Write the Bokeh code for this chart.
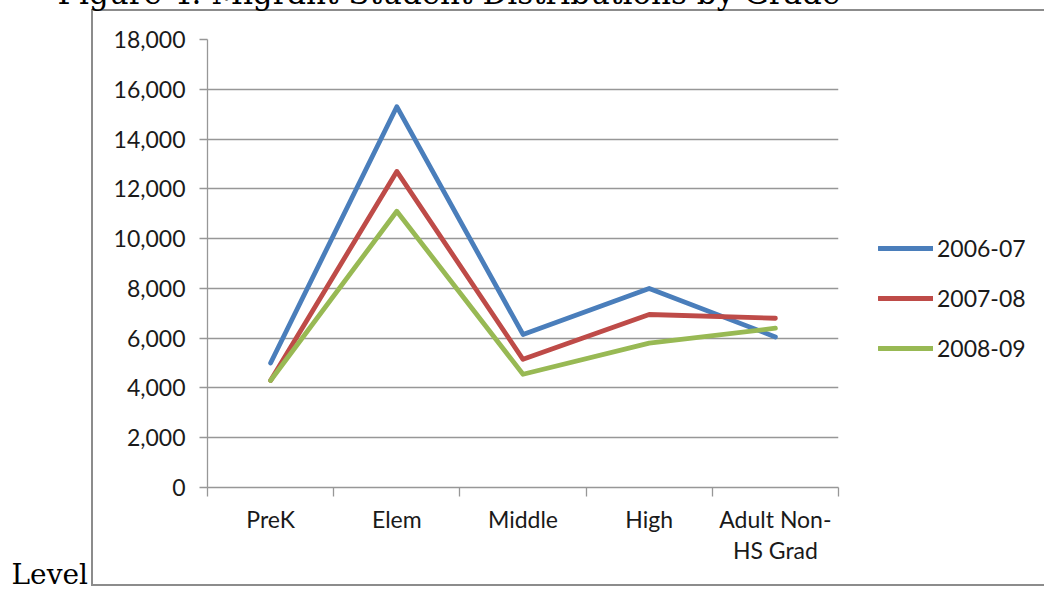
from bokeh.plotting import figure
from bokeh.models import (FixedTicker, NumeralTickFormatter, Label,
                          Legend, LegendItem, Range1d)
from bokeh.embed import file_html
from bokeh.resources import INLINE

# Migrant students by grade level, three school years
categories = ["PreK", "Elem", "Middle", "High", "Adult Non-\nHS Grad"]
years = ["2006-07", "2007-08", "2008-09"]
counts_2006 = [5000, 15300, 6150, 8000, 6050]
counts_2007 = [4300, 12700, 5150, 6950, 6800]
counts_2008 = [4300, 11100, 4550, 5800, 6400]
y_ticks = [0, 2000, 4000, 6000, 8000, 10000, 12000, 14000, 16000, 18000]

colors = ["#4A7EBB", "#BE4B48", "#98B954"]
series = [counts_2006, counts_2007, counts_2008]

# category i sits in the middle of slot [i, i+1]
xs = [i + 0.5 for i in range(len(categories))]
bounds = list(range(len(categories) + 1))

GRAY = "#979797"
BOX = "#8c8c8c"
FONT = "Lato"
SERIF = "DejaVu Serif"

W, H = 1044, 589
FL, FT, FW, FH = 207, 39, 631, 448


def bar(x, y, w, h):
    # one straight edge of the chart box, painted as a CSS background layer
    return f"linear-gradient({BOX},{BOX}) {x}px {y}px / {w}px {h}px no-repeat"


box_css = ", ".join([bar(91, 9, 2, 577), bar(91, 9, 980, 2),
                     bar(91, 584, 980, 2), "white"])

p = figure(width=W, height=H, output_backend="svg", toolbar_location=None,
           x_range=Range1d(0, len(categories)), y_range=Range1d(0, 18000),
           min_border_left=FL, min_border_right=W - FL - FW,
           min_border_top=FT, min_border_bottom=H - FT - FH,
           frame_width=FW, frame_height=FH,
           styles={"background": box_css})
p.outline_line_color = None
p.background_fill_alpha = 0
p.border_fill_alpha = 0

p.xaxis.ticker = FixedTicker(ticks=xs, minor_ticks=bounds)
p.xaxis.major_label_overrides = {x: c for x, c in zip(xs, categories)}
p.xaxis.major_tick_line_color = None
p.xaxis.major_tick_out = 9
p.xaxis.minor_tick_out = 9
p.xaxis.minor_tick_in = 0
p.xaxis.minor_tick_line_color = GRAY
p.xaxis.minor_tick_line_width = 1.3
p.xaxis.major_label_standoff = 8
p.xaxis.major_label_text_line_height = 1.13

p.yaxis.ticker = FixedTicker(ticks=y_ticks)
p.yaxis.formatter = NumeralTickFormatter(format="0,0")
p.yaxis.major_tick_out = 8
p.yaxis.major_tick_in = 0
p.yaxis.minor_tick_line_color = None
p.yaxis.major_tick_line_color = GRAY
p.yaxis.major_tick_line_width = 1.3
p.yaxis.major_label_standoff = 14

for ax in (p.xaxis, p.yaxis):
    ax.axis_line_color = GRAY
    ax.axis_line_width = 1.3
    ax.major_label_text_font = FONT
    ax.major_label_text_font_size = "23px"
    ax.major_label_text_color = "#1a1a1a"

p.xgrid.grid_line_color = None
p.ygrid.ticker = FixedTicker(ticks=y_ticks)
p.ygrid.grid_line_color = GRAY
p.ygrid.grid_line_width = 1.3

items = []
for name, vals, col in zip(years, series, colors):
    r = p.line(xs, vals, line_color=col, line_width=4.8,
               line_join="round", line_cap="round")
    items.append(LegendItem(label=name, renderers=[r]))

legend = Legend(items=items, location=(40, 124),
                padding=0, margin=0, spacing=20,
                glyph_width=55, glyph_height=30, label_height=30,
                label_standoff=4, label_text_font=FONT,
                label_text_font_size="23px", label_text_color="#1a1a1a",
                border_line_color=None, background_fill_alpha=0)
p.add_layout(legend, "right")

# caption line above the box; its slot is the top margin (origin at the
# frame's top-left corner, y pointing up)
p.add_layout(Label(x=57 - FL, y=FT + 8, x_units="screen", y_units="screen",
                   text="Figure 4. Migrant Student Distributions by Grade",
                   text_font=SERIF, text_font_size="31px",
                   text_baseline="alphabetic", text_color="black"), "above")

# trailing word of the text flow, in the left margin beyond the y axis
p.add_layout(Label(x=-22, y=(FT + FH) - 574, x_units="screen", y_units="screen",
                   text="Level", text_font=SERIF, text_font_size="28px",
                   text_baseline="alphabetic", text_color="black"), "left")

open("out.html", "w").write(file_html(p, INLINE))
